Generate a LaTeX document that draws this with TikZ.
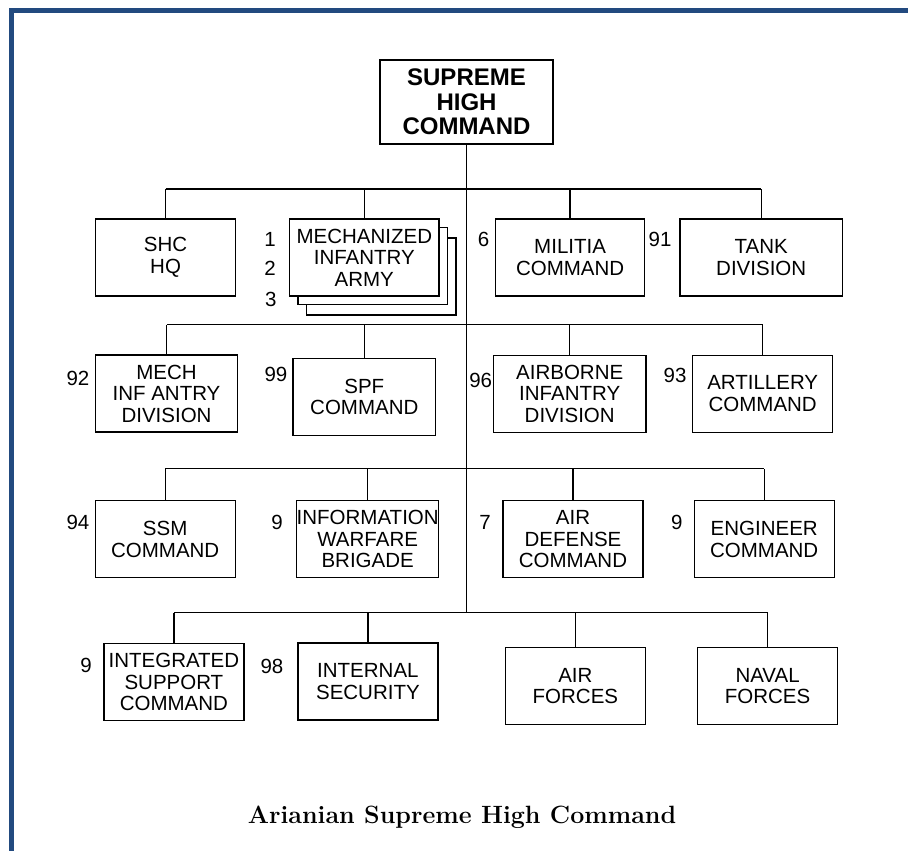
\documentclass[tikz,border=0pt]{standalone}
\usepackage{fontspec}
\usepackage{xcolor}
\usepackage{tikz}
\usetikzlibrary{positioning,calc}
\newfontfamily\orgfont{Liberation Sans}
\definecolor{frameblue}{RGB}{34,74,127}

\begin{document}
\begin{tikzpicture}[x=1pt,y=-1pt,
        unit/.style={draw, line width=1.35pt, fill=white, rectangle, align=center, inner sep=0pt,
            minimum width=140pt, minimum height=77pt, font={\orgfont\fontsize{20.5}{21.5}\selectfont}},
        num/.style={inner sep=0pt, font={\orgfont\fontsize{20.5}{21.5}\selectfont}},
        link/.style={line width=1.3pt}]
        \useasboundingbox (0,0) rectangle (908,851);
        \fill[frameblue] (9,8) rectangle (908,13);
        \fill[frameblue] (9,8) rectangle (14,851);
        % top
        \node[unit, minimum width=173pt, minimum height=84pt, font={\orgfont\bfseries\fontsize{24}{24.5}\selectfont}] (sup) at (466.5,102) {SUPREME\\HIGH\\COMMAND};
        \coordinate (bus1) at (466.7,189);
        \coordinate (bus2) at (466.7,324.7);
        \coordinate (bus3) at (466.7,468.7);
        \coordinate (bus4) at (466.7,612.7);
        % first row
        \node[unit] (hq) at (165.6,257.5) {SHC\\HQ};
        \node[unit, minimum width=149.5pt] (mia3) at (381.3,276.5) {};
        \node[unit, minimum width=149.5pt] (mia2) at (372.8,266) {};
        \node[unit, minimum width=149.5pt] (mia) at (364.3,257.5) {MECHANIZED\\INFANTRY\\ARMY};
        \node[unit, minimum width=149pt] (mil) at (570.1,257.5) {MILITIA\\COMMAND};
        \node[unit, minimum width=162.7pt] (tank) at (761.2,257.5) {TANK\\DIVISION};
        % second row
        \node[unit, minimum width=142.4pt] (mid) at (166.5,393.5) {MECH\\INF ANTRY\\DIVISION};
        \node[unit, minimum width=142.7pt] (spf) at (364.3,397) {SPF\\COMMAND};
        \node[unit, minimum width=152.7pt] (abn) at (569.7,393.7) {AIRBORNE\\INFANTRY\\DIVISION};
        \node[unit] (art) at (762.7,393.7) {ARTILLERY\\COMMAND};
        % third row
        \node[unit] (ssm) at (165.2,539.2) {SSM\\COMMAND};
        \node[unit] (iwb) at (367.7,539.2) {INFORMATION\\WARFARE\\BRIGADE};
        \node[unit] (adc) at (573,539.2) {AIR\\DEFENSE\\COMMAND};
        \node[unit] (eng) at (764.2,539.2) {ENGINEER\\COMMAND};
        % fourth row
        \node[unit] (isc) at (173.9,682) {INTEGRATED\\SUPPORT\\COMMAND};
        \node[unit] (ins) at (367.9,681.4) {INTERNAL\\SECURITY};
        \node[unit] (af) at (575.4,685.8) {AIR\\FORCES};
        \node[unit] (nf) at (767.6,685.8) {NAVAL\\FORCES};
        % numbers
        \node[num] (n1) at (270,239) {1};
        \node[num] (n2) at (270,268) {2};
        \node[num] (n3) at (270.7,299.3) {3};
        \node[num] (n6) at (483.5,239) {6};
        \node[num] (n91) at (660,239) {91};
        \node[num] (n92) at (78,378) {92};
        \node[num] (n99) at (276,374) {99};
        \node[num] (n96) at (480.7,380) {96};
        \node[num] (n93) at (675,375) {93};
        \node[num] (n94) at (78,522) {94};
        \node[num] (n9a) at (277,522) {9};
        \node[num] (n7) at (485,522) {7};
        \node[num] (n9b) at (676.7,522) {9};
        \node[num] (n9c) at (86,665) {9};
        \node[num] (n98) at (272,666) {98};
        % links
        \draw[link] (sup.south) -- (sup.south |- bus4);
        \draw[link] (hq.north |- bus1) -- (tank.north |- bus1);
        \draw[link] (mid.north |- bus2) -- (art.north |- bus2);
        \draw[link] (ssm.north |- bus3) -- (eng.north |- bus3);
        \draw[link] (isc.north |- bus4) -- (nf.north |- bus4);
        \foreach \n in {hq,mia,mil,tank} \draw[link] (\n.north) -- (\n.north |- bus1);
        \foreach \n in {mid,spf,abn,art} \draw[link] (\n.north) -- (\n.north |- bus2);
        \foreach \n in {ssm,iwb,adc,eng} \draw[link] (\n.north) -- (\n.north |- bus3);
        \foreach \n in {isc,ins,af,nf} \draw[link] (\n.north) -- (\n.north |- bus4);
        \node[font={\bfseries\fontsize{25}{28}\selectfont}, anchor=base] (cap) at (462,823) {Arianian Supreme High Command};
\end{tikzpicture}
\end{document}
